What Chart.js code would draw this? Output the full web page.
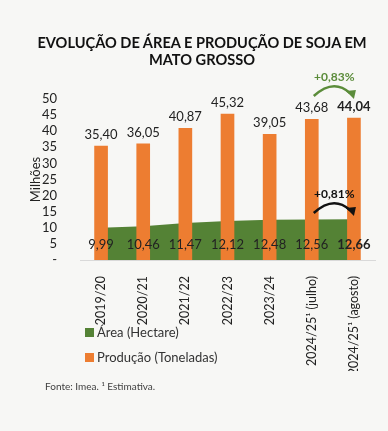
<!DOCTYPE html>
<html>
<head>
<meta charset="utf-8">
<script src="https://cdn.jsdelivr.net/npm/chart.js@4/dist/chart.umd.min.js"></script>
<style>
  html, body { margin: 0; padding: 0; background: #f7f7f5; }
  #wrap { position: relative; width: 388px; height: 431px; font-family: Lato, "Open Sans", sans-serif; color: #222; }
  canvas { position: absolute; left: 0; top: 0; }
  .title { position: absolute; left: 0; width: 404px; text-align: center; font-weight: 700; font-size: 14.6px; line-height: 17px; top: 34px; color: #111; }
  .legend { position: absolute; left: 85px; font-size: 13px; color: #333; }
  .legend span.box { display: inline-block; width: 9px; height: 9px; margin-right: 3px; vertical-align: 0px; }
  .foot { position: absolute; left: 45px; top: 380px; font-size: 10px; color: #404040; }
</style>
</head>
<body>
<div id="wrap">
  <canvas id="c" width="388" height="431"></canvas>
  <div class="title">EVOLUÇÃO DE ÁREA E PRODUÇÃO DE SOJA EM<br>MATO GROSSO</div>
  <div class="legend" style="top:324px"><span class="box" style="background:#548235"></span>Área (Hectare)</div>
  <div class="legend" style="top:349px"><span class="box" style="background:#ed7d31"></span>Produção (Toneladas)</div>
  <div class="foot">Fonte: Imea. ¹ Estimativa.</div>
</div>
<script>
const safras = ['2019/20', '2020/21', '2021/22', '2022/23', '2023/24', '2024/25¹ (julho)', '2024/25¹ (agosto)'];
const producao = [35.40, 36.05, 40.87, 45.32, 39.05, 43.68, 44.04];
const area = [9.99, 10.46, 11.47, 12.12, 12.48, 12.56, 12.66];
const yTicks = [0, 5, 10, 15, 20, 25, 30, 35, 40, 45, 50];

const fmt = v => v.toFixed(2).replace('.', ',');

// rótulos de dados + setas de variação
const labelsPlugin = {
  id: 'labelsPlugin',
  afterDatasetsDraw(chart) {
    const ctx = chart.ctx;
    const bars = chart.getDatasetMeta(0).data;
    const last = bars.length - 1;
    ctx.save();
    ctx.textAlign = 'center';
    ctx.textBaseline = 'alphabetic';
    ctx.fillStyle = '#222';
    bars.forEach((b, i) => {
      ctx.font = (i === last ? 'bold ' : '') + '13px Lato, sans-serif';
      ctx.fillText(fmt(producao[i]), b.x, b.y - 7);
      ctx.fillText(fmt(area[i]), b.x, chart.chartArea.bottom - 11);
    });

    const x1 = bars[5].x + 2, x2 = bars[6].x - 1;
    const arrow = (yBase, color, txt) => {
      ctx.strokeStyle = color;
      ctx.fillStyle = color;
      ctx.lineWidth = 2.5;
      ctx.beginPath();
      ctx.moveTo(x1, yBase);
      ctx.quadraticCurveTo((x1 + x2) / 2, yBase - 18, x2 - 3, yBase - 3);
      ctx.stroke();
      ctx.beginPath();
      ctx.moveTo(x2 - 7, yBase - 5);
      ctx.lineTo(x2 + 3, yBase - 6);
      ctx.lineTo(x2 + 1, yBase + 3);
      ctx.closePath();
      ctx.fill();
      ctx.font = 'bold 12px Lato, sans-serif';
      ctx.fillText(txt, (x1 + x2) / 2 + 1, yBase - 15);
    };
    arrow(96, '#5b8c3a', '+0,83%');
    arrow(213, '#111', '+0,81%');
    ctx.restore();
  }
};

new Chart(document.getElementById('c'), {
  type: 'bar',
  data: {
    labels: safras,
    datasets: [{
      label: 'Produção (Toneladas)',
      data: producao,
      backgroundColor: '#ed7d31',
      barThickness: 13,
      order: 0
    }, {
      type: 'line',
      label: 'Área (Hectare)',
      data: area,
      backgroundColor: '#548235',
      borderColor: '#548235',
      borderWidth: 0,
      pointRadius: 0,
      fill: 'origin',
      tension: 0,
      order: 1
    }]
  },
  options: {
    responsive: false,
    animation: false,
    layout: { padding: { top: 99, left: 20, right: 13, bottom: 60 } },
    plugins: {
      legend: { display: false },
      tooltip: { enabled: false }
    },
    scales: {
      x: {
        grid: { display: false },
        border: { display: true, color: '#d9d9d9', width: 1 },
        ticks: {
          color: '#222',
          font: { family: 'Lato', size: 12.5 },
          minRotation: 90,
          maxRotation: 90,
          autoSkip: false,
          padding: 8
        },
        afterFit: s => { s.height = 111; }
      },
      y: {
        min: 0,
        max: 50,
        grid: { display: false },
        border: { display: false },
        afterBuildTicks: s => { s.ticks = yTicks.map(v => ({ value: v })); },
        ticks: {
          color: '#222',
          font: { family: 'Lato', size: 13 },
          padding: 15,
          autoSkip: false,
          callback: v => v === 0 ? '-' : v
        },
        title: {
          display: true,
          text: 'Milhões',
          color: '#222',
          font: { family: 'Lato', size: 13 },
          padding: { top: 8 }
        },
        afterFit: s => { s.width = 60; }
      }
    }
  },
  plugins: [labelsPlugin]
});
</script>
</body>
</html>
